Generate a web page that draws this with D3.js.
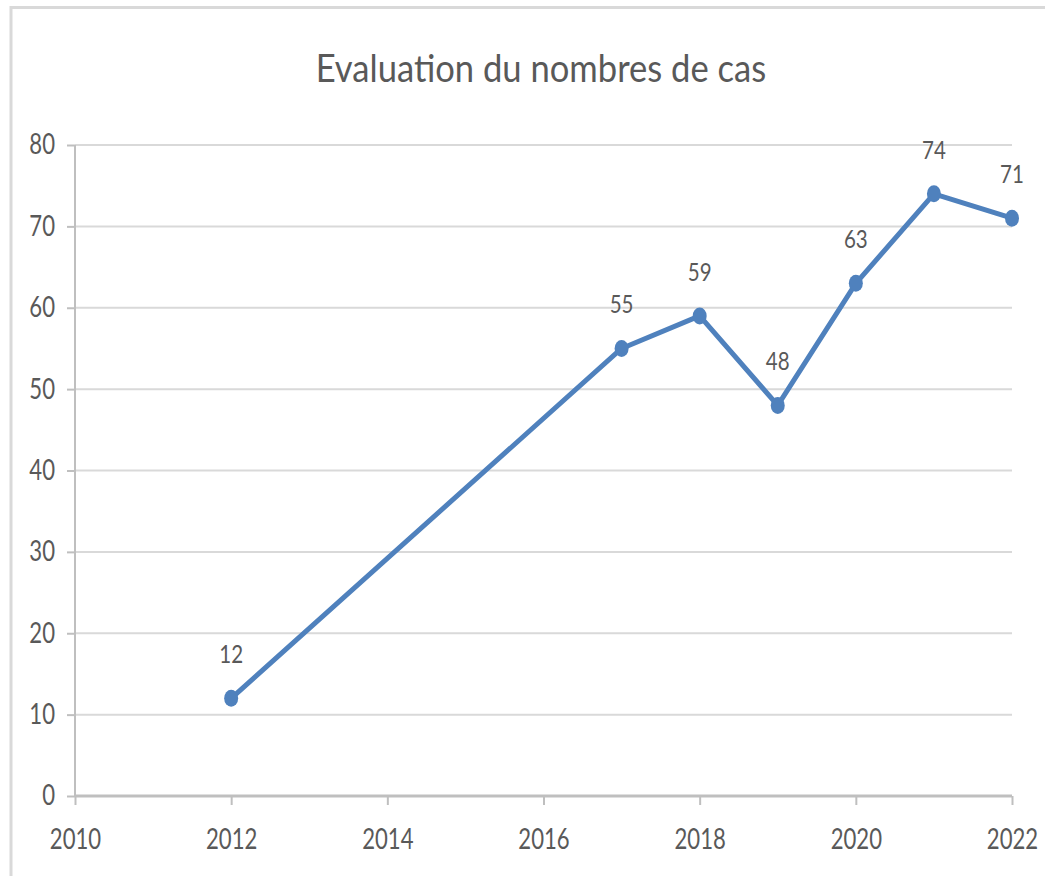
<!DOCTYPE html>
<html><head><meta charset="utf-8">
<script src="https://cdn.jsdelivr.net/npm/d3@7"></script>
<style>
html,body{margin:0;padding:0;background:#fff;}
text{font-family:Lato,"Open Sans",sans-serif;fill:#595959;}
</style></head>
<body>
<svg id="chart" width="1045" height="876"></svg>
<script>
const years = [2012, 2017, 2018, 2019, 2020, 2021, 2022];
const cases = [12, 55, 59, 48, 63, 74, 71];
const xTicks = [2010, 2012, 2014, 2016, 2018, 2020, 2022];
const yTicks = [0, 10, 20, 30, 40, 50, 60, 70, 80];
const title = "Evaluation du nombres de cas";

const FONT = 'Lato,"Open Sans",sans-serif';
const SX = 0.79;
const svg = d3.select("#chart");
const W = 1045, H = 876;
const m = {left: 75, right: 33, top: 145, bottom: 80};

// condensed text: scale horizontally, keep anchor position
function squeeze(sel, sx) {
  sel.each(function() {
    const t = d3.select(this);
    const xv = +(t.attr("x") || 0);
    t.attr("x", xv / sx).attr("transform", `scale(${sx},1)`);
  });
}

// outer frame
svg.append("rect").attr("x", 11).attr("y", 7.5).attr("width", W + 20).attr("height", H + 20)
  .attr("fill", "none").attr("stroke", "#d9d9d9").attr("stroke-width", 3);

const x = d3.scaleLinear().domain([2010, 2022]).range([m.left, W - m.right]);
const y = d3.scaleLinear().domain([0, 80]).range([H - m.bottom, m.top]);

// gridlines
svg.append("g").selectAll("line").data(yTicks.filter(d => d > 0)).join("line")
  .attr("x1", x(2010)).attr("x2", x(2022))
  .attr("y1", d => y(d)).attr("y2", d => y(d))
  .attr("stroke", "#d9d9d9").attr("stroke-width", 2);

// y axis
const yAxis = svg.append("g").attr("transform", `translate(${x(2010)},0)`)
  .call(d3.axisLeft(y).tickValues(yTicks).tickSize(8).tickPadding(12).tickFormat(d3.format("d")));
yAxis.select(".domain").attr("stroke", "#bfbfbf").attr("stroke-width", 2).attr("d", `M0,${y(0)}V${y(80)}`);
yAxis.selectAll(".tick line").attr("stroke", "#bfbfbf").attr("stroke-width", 2);
yAxis.selectAll(".tick text").attr("font-size", 28).attr("fill", "#595959").attr("font-family", FONT)
  .call(squeeze, SX);

// x axis
const xAxis = svg.append("g").attr("transform", `translate(0,${y(0)})`)
  .call(d3.axisBottom(x).tickValues(xTicks).tickSize(9).tickPadding(24).tickFormat(d3.format("d")));
xAxis.select(".domain").attr("stroke", "#bfbfbf").attr("stroke-width", 3).attr("d", `M${x(2010)},0H${x(2022)}`);
xAxis.selectAll(".tick line").attr("stroke", "#bfbfbf").attr("stroke-width", 2);
xAxis.selectAll(".tick text").attr("font-size", 28).attr("fill", "#595959").attr("font-family", FONT)
  .call(squeeze, SX);

// line
const data = years.map((yr, i) => ({yr, v: cases[i]}));
svg.append("path").datum(data)
  .attr("fill", "none").attr("stroke", "#4f81bd").attr("stroke-width", 5)
  .attr("stroke-linejoin", "round")
  .attr("d", d3.line().x(d => x(d.yr)).y(d => y(d.v)));

svg.append("g").selectAll("ellipse").data(data).join("ellipse")
  .attr("cx", d => x(d.yr)).attr("cy", d => y(d.v))
  .attr("rx", 7).attr("ry", 8.5).attr("fill", "#4f81bd");

// data labels
svg.append("g").selectAll("text").data(data).join("text")
  .attr("x", d => x(d.yr)).attr("y", d => y(d.v) - 35)
  .attr("text-anchor", "middle").attr("font-size", 26)
  .text(d => d.v)
  .call(squeeze, SX);

// title
svg.append("text").attr("x", 541).attr("y", 82).attr("text-anchor", "middle")
  .attr("font-size", 38).text(title)
  .call(squeeze, 0.91);
</script>
</body></html>
